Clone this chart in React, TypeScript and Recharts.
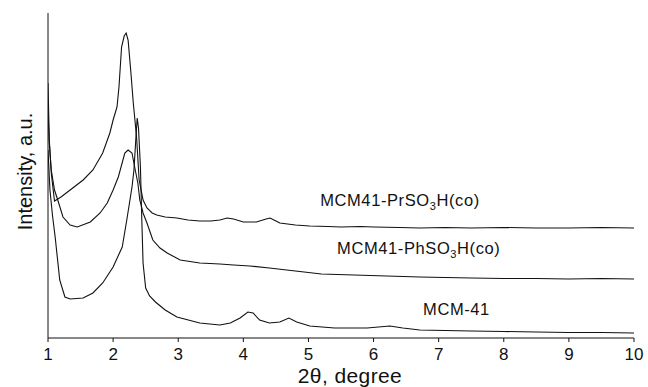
import React from 'react';
import { LineChart, Line, XAxis, YAxis, ReferenceDot } from 'recharts';

const xTicks = [1, 2, 3, 4, 5, 6, 7, 8, 9, 10];

const prX = [1.0, 1.02, 1.05, 1.08, 1.1, 1.2, 1.38, 1.54, 1.69, 1.84, 1.95, 2.0, 2.06, 2.09, 2.13, 2.17, 2.2, 2.23, 2.27, 2.31, 2.36, 2.4, 2.46, 2.52, 2.6, 2.67, 2.8, 2.98, 3.15, 3.33, 3.5, 3.64, 3.75, 3.85, 4.0, 4.2, 4.35, 4.41, 4.5, 4.56, 4.8, 5.02, 5.3, 5.5, 5.8, 6.0, 6.4, 6.71, 7.1, 7.5, 8.0, 8.5, 9.0, 9.5, 10.0];
const prY = [255, 198, 165, 148, 137, 141, 150, 158, 168, 185, 205, 218, 231, 251, 291, 302, 305, 298, 268, 235, 201, 158, 138, 130, 125, 123, 121, 120, 118, 117, 117, 118, 120, 119, 116, 116, 119, 120, 117, 115, 113, 112, 111.5, 111, 111.5, 111, 110.5, 110, 110.5, 110, 110.5, 110, 110, 110.5, 110];

const phX = [1.0, 1.02, 1.05, 1.1, 1.15, 1.23, 1.34, 1.45, 1.65, 1.8, 1.91, 2.0, 2.08, 2.18, 2.23, 2.29, 2.34, 2.38, 2.41, 2.46, 2.52, 2.61, 2.72, 2.83, 3.03, 3.33, 3.64, 3.85, 4.1, 4.4, 4.8, 5.2, 5.7, 6.2, 6.71, 7.1, 7.5, 8.0, 8.5, 9.0, 9.5, 10.0];
const phY = [228, 195, 168, 148, 138, 121, 113, 111, 116, 125, 135, 148, 161, 185, 188, 185, 168, 155, 138, 125, 115, 98, 90, 85, 78, 75, 74, 73, 72, 70, 67, 64, 63, 62, 61, 60.5, 60, 59.5, 59.5, 59, 59.5, 59];

const mcmX = [1.0, 1.03, 1.07, 1.11, 1.18, 1.26, 1.34, 1.54, 1.69, 1.84, 2.0, 2.14, 2.21, 2.29, 2.32, 2.35, 2.37, 2.39, 2.42, 2.44, 2.46, 2.5, 2.56, 2.65, 2.8, 2.98, 3.33, 3.64, 3.8, 3.95, 4.07, 4.15, 4.25, 4.4, 4.56, 4.7, 4.82, 5.02, 5.4, 5.9, 6.25, 6.45, 6.71, 7.1, 7.5, 8.0, 8.5, 9.0, 9.5, 10.0];
const mcmY = [188, 148, 122, 101, 58, 41, 39, 40, 45, 55, 71, 91, 118, 151, 168, 200, 220, 210, 170, 120, 75, 50, 42, 36, 28, 21, 15, 13, 15, 20, 26, 25, 18, 15, 16, 20, 16, 12, 10, 10, 12, 10, 8, 7.5, 7, 6.5, 6, 5.5, 5.5, 5];

const labelNames = ['MCM41-PrSO', 'MCM41-PhSO', 'MCM-41'];
const labelX = [5.18, 5.44, 6.76];
const labelY = [132, 84, 23];

const toData = (xs: number[], ys: number[]) => xs.map((x, i) => ({ x, y: ys[i] }));
const prData = toData(prX, prY);
const phData = toData(phX, phY);
const mcmData = toData(mcmX, mcmY);

const FONT = '"Liberation Sans", Arial, sans-serif';

const makeLabel = (idx: number) => (props: any) => {
  const { cx, cy } = props;
  const withSub = idx < 2;
  return (
    <text x={cx} y={cy} fontFamily={FONT} fontSize={16.5} letterSpacing={0.6} fill="#111" textAnchor="start">
      {labelNames[idx]}
      {withSub && (
        <>
          <tspan fontSize={11} dy={4}>3</tspan>
          <tspan dy={-4}>H(co)</tspan>
        </>
      )}
    </text>
  );
};

export default function App() {
  return (
    <div style={{ position: 'absolute', left: 0, top: 0, width: 648, height: 387, background: '#fff' }}>
      <LineChart width={648} height={387} margin={{ top: 13, right: 14, left: 0, bottom: 0 }}>
        <XAxis
          dataKey="x"
          type="number"
          domain={[1, 10]}
          ticks={xTicks}
          allowDataOverflow
          height={49}
          tickSize={4}
          tickMargin={6}
          stroke="#111"
          tick={{ fill: '#111', fontSize: 17, fontFamily: FONT }}
          label={(p: any) => {
            const vb = p.viewBox || {};
            return (
              <text x={vb.x + vb.width / 2 + 9} y={383} textAnchor="middle" fontFamily={FONT} fontSize={21} letterSpacing={0.4} fill="#111">
                2θ, degree
              </text>
            );
          }}
        />
        <YAxis
          type="number"
          domain={[0, 325]}
          allowDataOverflow
          width={48}
          tick={false}
          tickLine={false}
          stroke="#111"
          label={(p: any) => {
            const vb = p.viewBox || {};
            const cy = vb.y + vb.height / 2 - 4;
            return (
              <text x={25} y={cy} transform={`rotate(-90, 25, ${cy})`} textAnchor="middle" dominantBaseline="central" fontFamily={FONT} fontSize={20} fill="#111">
                Intensity, a.u.
              </text>
            );
          }}
        />
        <Line data={prData} dataKey="y" type="linear" stroke="#111" strokeWidth={1.1} dot={false} isAnimationActive={false} />
        <Line data={phData} dataKey="y" type="linear" stroke="#111" strokeWidth={1.1} dot={false} isAnimationActive={false} />
        <Line data={mcmData} dataKey="y" type="linear" stroke="#111" strokeWidth={1.1} dot={false} isAnimationActive={false} />
        {labelNames.map((n, i) => (
          <ReferenceDot key={n} x={labelX[i]} y={labelY[i]} r={0} shape={makeLabel(i)} />
        ))}
      </LineChart>
    </div>
  );
}
